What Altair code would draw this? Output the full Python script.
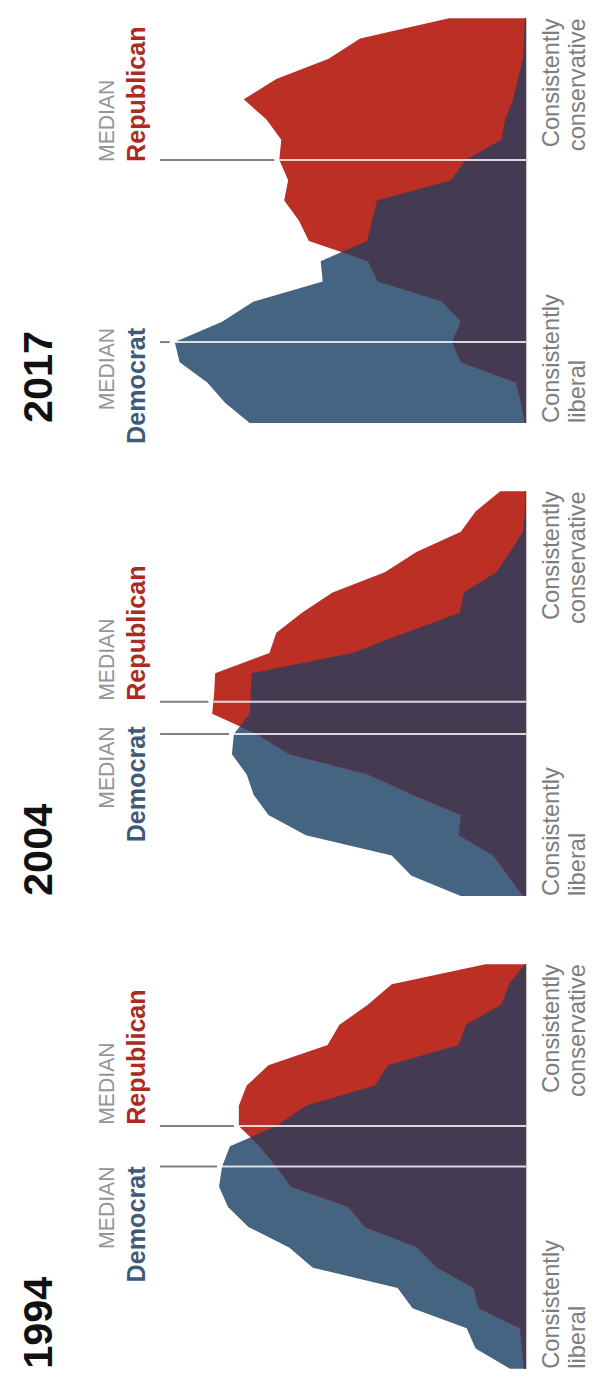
import altair as alt
import numpy as np
import pandas as pd

# Ideology scale: -10 = consistently liberal, +10 = consistently conservative
ideology = list(range(-10, 11))
years = ["2017", "2004", "1994"]

# Share of each party at each ideology point (liberal -> conservative)
dem_1994 = [1.6, 5.1, 6.0, 11.5, 13.0, 21.6, 24.0, 28.1, 30.2, 31.1, 30.8,
            30.0, 25.3, 22.3, 15.3, 14.0, 6.8, 6.1, 2.5, 1.7, 0.1]
rep_1994 = [0.2, 0.4, 0.6, 4.8, 5.3, 9.0, 11.0, 16.3, 18.0, 23.8, 25.3,
            27.0, 29.1, 29.1, 28.3, 26.1, 20.1, 18.9, 16.0, 13.6, 4.1]

dem_2004 = [6.6, 11.6, 13.6, 22.3, 26.1, 27.6, 28.3, 29.8, 29.6, 28.0, 27.9,
            27.8, 17.6, 12.2, 6.7, 6.3, 3.0, 1.6, 0.3, 0.1, 0.05]
rep_2004 = [0.3, 1.8, 3.3, 6.8, 6.6, 11.5, 16.0, 24.0, 27.3, 31.8, 31.6,
            31.5, 26.0, 25.3, 22.7, 19.6, 14.3, 11.1, 6.6, 5.1, 2.6]

dem_2017 = [28.0, 30.5, 32.3, 35.1, 35.6, 30.8, 27.6, 20.6, 20.8, 16.1, 15.6,
            15.1, 7.6, 6.1, 2.5, 2.1, 1.3, 0.8, 0.3, 0.2, 0.1]
rep_2017 = [0.1, 0.5, 1.0, 6.6, 7.5, 6.6, 8.5, 15.0, 16.0, 22.0, 23.0,
            24.5, 24.1, 25.0, 24.8, 26.3, 28.6, 25.3, 20.0, 16.8, 7.8]

median_dem = {"2017": -6.0, "2004": -2.0, "1994": 0.0}
median_rep = {"2017": 3.0, "2004": -0.4, "1994": 2.0}

dem = {"1994": dem_1994, "2004": dem_2004, "2017": dem_2017}
rep = {"1994": rep_1994, "2004": rep_2004, "2017": rep_2017}

# ---- layout (positions, not data) ----
PANEL_OFFSET = {"1994": 0.0, "2004": 23.37, "2017": 46.74}
LABEL_DEM = {"2017": -5.3, "2004": -1.62, "1994": 0.0}
LABEL_REP = {"2017": 2.9, "2004": -0.36, "1994": 2.06}
GRAY_START = 37.1
GAP = 0.5

W, H = 591, 1375
xs = alt.Scale(domain=[-6.6, 52.5], reverse=True, nice=False, zero=False)
ys = alt.Scale(domain=[-10.24, 56.79], nice=False, zero=False)

BLUE = "#446482"
RED = "#bc2f25"
PURPLE = "#443a51"
DEM_TXT = "#3d5b79"
REP_TXT = "#ab2a21"
GRAY_TXT = "#7d7d7d"
MED_TXT = "#959595"
SANS = "'Liberation Sans', Arial, sans-serif"


def overlap(d, r):
    pts = []
    for i, ide in enumerate(ideology):
        pts.append((ide, min(d[i], r[i])))
        if i < len(ideology) - 1:
            a = d[i] - r[i]
            b = d[i + 1] - r[i + 1]
            if a * b < 0:
                t = a / (a - b)
                pts.append((ide + t, d[i] + t * (d[i + 1] - d[i])))
    return pts


rows = []
for y in years:
    off = PANEL_OFFSET[y]
    d, r = dem[y], rep[y]
    for i, ide in enumerate(ideology):
        rows.append(dict(year=y, series="dem", pos=off + ide, val=d[i], zero=0))
        rows.append(dict(year=y, series="rep", pos=off + ide, val=r[i], zero=0))
    for ide, v in overlap(d, r):
        rows.append(dict(year=y, series="both", pos=off + ide, val=v, zero=0))
area_df = pd.DataFrame(rows)

Y = lambda f: alt.Y(f, scale=ys, axis=None)
X = lambda f: alt.X(f, scale=xs, axis=None)


def area(series, color):
    return (
        alt.Chart(area_df)
        .transform_filter(alt.datum.series == series)
        .mark_area(orient="horizontal", color=color)
        .encode(y=Y("pos:Q"), x=X("val:Q"), x2=alt.X2("zero"), detail="year:N")
    )


base_df = pd.DataFrame(
    [dict(year=y, lo=PANEL_OFFSET[y] - 10, hi=PANEL_OFFSET[y] + 10, zero=0) for y in years]
)
baseline = alt.Chart(base_df).mark_rule(color="#c9c9c9", strokeWidth=2.5).encode(
    x=X("zero:Q"), y=Y("lo:Q"), y2=alt.Y2("hi")
)

med_rows = []
for y in years:
    envelope = np.maximum(dem[y], rep[y])
    for party, m in (("dem", median_dem[y]), ("rep", median_rep[y])):
        edge = float(np.interp(m, ideology, envelope))
        med_rows.append(dict(year=y, party=party, pos=PANEL_OFFSET[y] + m,
                             edge=edge, zero=0, start=GRAY_START, gend=edge + GAP))
med_df = pd.DataFrame(med_rows)

white_rules = alt.Chart(med_df).mark_rule(color="white", strokeWidth=2, opacity=0.8).encode(
    y=Y("pos:Q"), x=X("edge:Q"), x2=alt.X2("zero")
)
gray_rules = alt.Chart(med_df).mark_rule(color="#808080", strokeWidth=2).encode(
    y=Y("pos:Q"), x=X("start:Q"), x2=alt.X2("gend")
)


def text_layer(df, x_px, align, size, weight, color, font=SANS):
    return alt.Chart(df).mark_text(
        angle=270, align=align, baseline="alphabetic", fontSize=size,
        fontWeight=weight, color=color, font=font
    ).encode(y=Y("pos:Q"), x=alt.value(x_px), text="label:N")


year_df = pd.DataFrame([dict(pos=PANEL_OFFSET[y] - 10, label=y) for y in years])
dem_lab = pd.DataFrame([dict(pos=PANEL_OFFSET[y] + LABEL_DEM[y], label="x") for y in years])
rep_lab = pd.DataFrame([dict(pos=PANEL_OFFSET[y] + LABEL_REP[y], label="x") for y in years])
bottom_pos = pd.DataFrame([dict(pos=PANEL_OFFSET[y] - 10, label="x") for y in years])
top_pos = pd.DataFrame([dict(pos=PANEL_OFFSET[y] + 10, label="x") for y in years])


def with_label(df, text):
    out = df.copy()
    out["label"] = text
    return out


texts = [
    text_layer(year_df, 45, "left", 42, "bold", "#111111"),
    text_layer(with_label(dem_lab, "MEDIAN"), 107, "right", 21.5, "normal", MED_TXT),
    text_layer(with_label(dem_lab, "Democrat"), 139, "right", 25.5, "bold", DEM_TXT),
    text_layer(with_label(rep_lab, "MEDIAN"), 107, "left", 21.5, "normal", MED_TXT),
    text_layer(with_label(rep_lab, "Republican"), 139, "left", 25.5, "bold", REP_TXT),
    text_layer(with_label(bottom_pos, "Consistently"), 559, "left", 24, "normal", GRAY_TXT),
    text_layer(with_label(bottom_pos, "liberal"), 585, "left", 24, "normal", GRAY_TXT),
    text_layer(with_label(top_pos, "Consistently"), 559, "right", 24, "normal", GRAY_TXT),
    text_layer(with_label(top_pos, "conservative"), 585, "right", 24, "normal", GRAY_TXT),
]

chart = alt.layer(
    baseline,
    area("dem", BLUE),
    area("rep", RED),
    area("both", PURPLE),
    white_rules,
    gray_rules,
    *texts,
).properties(
    width=W, height=H, padding=0,
    autosize=alt.AutoSizeParams(type="none"),
).configure_view(stroke=None)

chart.save("out.html", embed_options={"renderer": "svg", "actions": False})
